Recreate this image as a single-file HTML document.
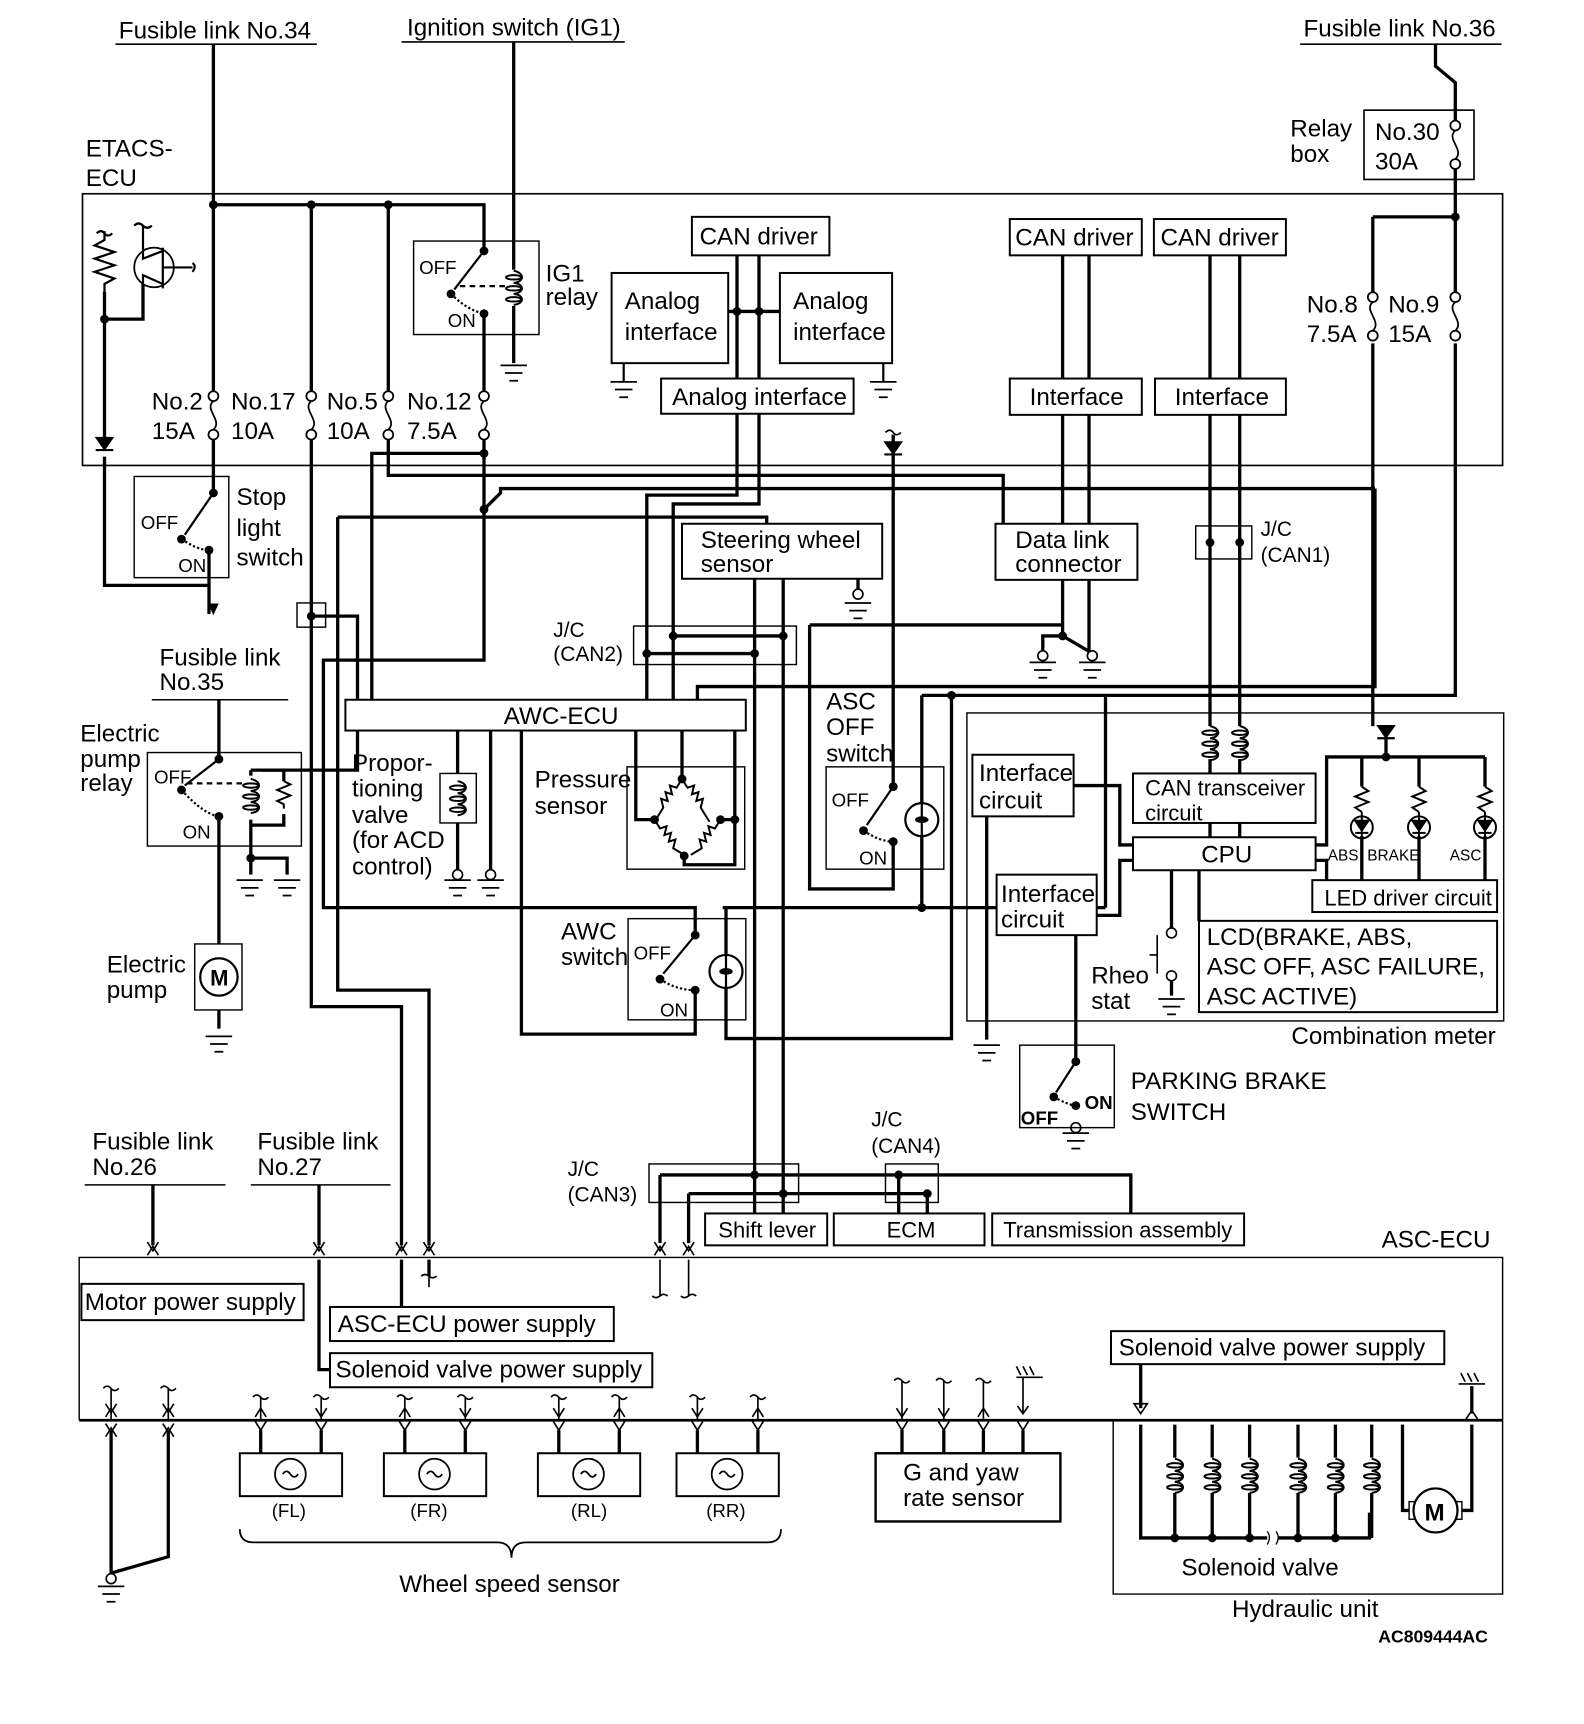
<!DOCTYPE html>
<html><head><meta charset="utf-8"><style>
html,body{margin:0;padding:0;background:#fff;}
svg{display:block;}
text{font-family:"Liberation Sans",Arial,sans-serif;fill:#000;}
</style></head><body>
<svg width="1584" height="1724" viewBox="0 0 1440 1567" xmlns="http://www.w3.org/2000/svg">
<defs>
<g id="gnd"><line x1="-12" y1="0" x2="12" y2="0" stroke="#000" stroke-width="1.6"/><line x1="-8" y1="7" x2="8" y2="7" stroke="#000" stroke-width="1.6"/><line x1="-4" y1="14" x2="4" y2="14" stroke="#000" stroke-width="1.6"/></g>
<g id="fuse" fill="none" stroke="#000" stroke-width="1.6"><circle cx="0" cy="0" r="4.5" fill="#fff"/><circle cx="0" cy="35" r="4.5" fill="#fff"/><path d="M0,4.5 C-9,12 9,22 0,30.5"/></g>
<g id="coil" fill="none" stroke="#000" stroke-width="1.8"><path d="M0,0 C10,2 10,10 0,11 C10,12 10,20 0,21 C10,22 10,30 0,31"/><ellipse cx="0" cy="6" rx="7" ry="2"/><ellipse cx="0" cy="16" rx="7" ry="2"/><ellipse cx="0" cy="26" rx="7" ry="2"/></g>
<g id="conn" fill="none" stroke="#000" stroke-width="1.5"><path d="M-5,-6 L0,2 L5,-6"/><path d="M-5,6 L0,-2 L5,6"/></g>
</defs>

<g stroke="#000" fill="none">
<line x1="105" y1="40" x2="288" y2="40" stroke-width="1.5"/>
<line x1="365" y1="38" x2="568" y2="38" stroke-width="1.5"/>
<line x1="1182" y1="40" x2="1365" y2="40" stroke-width="1.5"/>
<rect x="75" y="176" width="1291" height="247" stroke-width="1.5"/>
<rect x="1240" y="100" width="100" height="63" stroke-width="1.5"/>
</g>

<g stroke="#000" stroke-width="3" fill="none" stroke-linejoin="miter">
<path d="M194,40 V355 M194,400 V448 M190,500 V558"/>
<path d="M194,186 H440 V228"/>
<path d="M283,186 V355 M283,400 V915 H365 V1132"/>
<path d="M353,186 V355 M353,400 V432 H912 V476"/>
<path d="M440,285 V355 M440,400 V600 H294 V825 H632 V850"/>
<path d="M440,412 H338 V636"/>
<path d="M307,470 H697 V476 M307,470 V900 H390 V1132"/>
<path d="M440,463 L455,448 V444 H1250"/>
<path d="M1250,444 V624 H634 V636"/>
<path d="M467,38 V245 M467,278 V330"/>
<path d="M95,265 V405 M95,290 H130 V258 M95,415 V532 H190"/>
<path d="M1305,40 V60 L1323,75 V110 M1323,152 V265 M1323,312 V632 H838 M1248,197 H1323 M1248,197 V265 M1248,312 V660"/>
<path d="M670,232 V344 M690,232 V344 M662,283 H709"/>
<path d="M670,376 V450 H588 V636 M690,376 V458 H612 V636"/>
<path d="M612,578 H712 M588,594 H686"/>
<path d="M686,526 V1103 M712,526 V1103"/>
<path d="M780,526 V540"/>
<path d="M966,232 V344 M990,232 V344 M1100,232 V344 M1127,232 V344"/>
<path d="M966,377 V476 M990,377 V476 M966,527 V578 L990,592 M990,527 V592 M966,578 H948 V596 M993,592 V596"/>
<path d="M1100,377 V660 M1127,377 V660"/>
<path d="M736,568 H966"/>
<path d="M736,568 V808 H812 V765"/>
<path d="M812,395 V715"/>
<path d="M838,632 V825 M865,632 V944 H660 V825 M657,825 H1005 M1005,632 V825"/>
<path d="M474,664 V940 H632 V900"/>
<path d="M578,664 V745 H595 M620,664 V708 M668,664 V745 H655 M622,778 V786 H668 V745"/>
<path d="M416,664 V703 M416,748 V795 M446,664 V795"/>
<path d="M283,560 H325 V700 H238"/>
<path d="M199,636 V690 M199,742 V858 M199,918 V935"/>
<path d="M228,700 V705 M228,745 V780 M228,700 H258 V710 M258,740 V750 H228 M228,780 V795 M228,780 H261 V795"/>
<path d="M1100,690 V703 M1127,690 V703 M1100,748 V761 M1127,748 V761"/>
<path d="M976,714 H1018 V768 H1030 M997,832 H1018 V782 H1030"/>
<path d="M1196,768 H1206 V688 H1350 M1196,782 H1206 V800"/>
<path d="M1238,688 V715 M1290,688 V715 M1350,688 V715 M1238,760 V800 M1290,760 V800 M1350,760 V800"/>
<path d="M1260,672 V688"/>
<path d="M1065,791 V843 M1090,791 V837 M1065,892 V905"/>
<path d="M978,850 V962 M897,686 V945"/>
<path d="M139,1077 V1132 M290,1077 V1132 M290,1145 V1245 H300 M365,1145 V1188 M390,1145 V1160"/>
<path d="M600,1068 H1028 V1103 M626,1085 H843 V1103 M817,1068 V1103 M600,1068 V1130 M626,1085 V1130"/>
<path d="M101,1300 V1430 L153,1415 V1300 M101,1430 V1440"/>
<path d="M237,1300 V1321 M292,1300 V1321 M368,1300 V1321 M423,1300 V1321 M508,1300 V1321 M563,1300 V1321 M634,1300 V1321 M689,1300 V1321"/>
<path d="M820,1300 V1321 M858,1300 V1321 M894,1300 V1321 M930,1300 V1321"/>
<path d="M1037,1240 V1280"/>
<path d="M1037,1295 V1398 H1245 V1375 M1068,1295 V1325 M1068,1357 V1398 M1102,1295 V1325 M1102,1357 V1398 M1136,1295 V1325 M1136,1357 V1398 M1180,1295 V1325 M1180,1357 V1398 M1214,1295 V1325 M1214,1357 V1398 M1247,1295 V1325 M1247,1357 V1398"/>
<path d="M1275,1295 V1373 H1285 M1338,1295 V1373 H1325"/>
<path d="M1338,1260 V1285"/>
</g>
<line x1="72" y1="1291" x2="1366" y2="1291" stroke="#000" stroke-width="2.5"/>
<g stroke="#fff" stroke-width="4"><line x1="1152" y1="1398" x2="1162" y2="1398"/></g>
<path d="M1152,1392 q4,5 0,12 M1160,1392 q4,5 0,12" stroke="#000" stroke-width="1.2" fill="none"/>

<use href="#fuse" x="194" y="360"/><use href="#fuse" x="283" y="360"/><use href="#fuse" x="353" y="360"/><use href="#fuse" x="440" y="360"/>
<use href="#fuse" x="1323" y="114"/><use href="#fuse" x="1248" y="270"/><use href="#fuse" x="1323" y="270"/>

<g fill="#000">
<circle cx="194" cy="186" r="4"/><circle cx="283" cy="186" r="4"/><circle cx="353" cy="186" r="4"/><circle cx="1323" cy="197" r="4"/>
<circle cx="440" cy="228" r="4"/><circle cx="410" cy="267" r="4"/><circle cx="440" cy="285" r="4"/>
<circle cx="95" cy="290" r="4"/><circle cx="440" cy="412" r="4"/><circle cx="440" cy="463" r="4"/>
<circle cx="670" cy="283" r="4"/><circle cx="690" cy="283" r="4"/>
<circle cx="612" cy="578" r="4"/><circle cx="712" cy="578" r="4"/><circle cx="588" cy="594" r="4"/><circle cx="686" cy="594" r="4"/>
<circle cx="1100" cy="493" r="4"/><circle cx="1127" cy="493" r="4"/><circle cx="966" cy="578" r="4"/>
<circle cx="283" cy="560" r="4"/><circle cx="865" cy="632" r="4"/><circle cx="838" cy="825" r="4"/>
<circle cx="686" cy="1068" r="4"/><circle cx="712" cy="1085" r="4"/><circle cx="817" cy="1068" r="4"/><circle cx="843" cy="1085" r="4"/>
<circle cx="1260" cy="688" r="4"/><circle cx="199" cy="690" r="4"/><circle cx="165" cy="718" r="4"/><circle cx="199" cy="742" r="4"/><circle cx="228" cy="780" r="4"/>
<circle cx="194" cy="448" r="4"/><circle cx="165" cy="490" r="4"/><circle cx="190" cy="500" r="4"/>
<circle cx="812" cy="715" r="4"/><circle cx="785" cy="755" r="4"/><circle cx="812" cy="765" r="4"/>
<circle cx="632" cy="850" r="4"/><circle cx="600" cy="890" r="4"/><circle cx="632" cy="900" r="4"/>
<circle cx="978" cy="965" r="4"/><circle cx="958" cy="997" r="4"/><circle cx="978" cy="1005" r="4"/>
<circle cx="620" cy="708" r="4"/><circle cx="595" cy="745" r="4"/><circle cx="655" cy="745" r="4"/><circle cx="622" cy="778" r="4"/><circle cx="668" cy="745" r="4"/>
<circle cx="1068" cy="1398" r="4"/><circle cx="1102" cy="1398" r="4"/><circle cx="1136" cy="1398" r="4"/><circle cx="1180" cy="1398" r="4"/><circle cx="1214" cy="1398" r="4"/>
</g>

<g stroke="#000" stroke-width="2" fill="none">
<path d="M440,228 L413,263"/><path d="M418,260 H460" stroke-dasharray="5,4"/><path d="M410,267 Q425,282 440,285" stroke-dasharray="2,2"/>
<path d="M194,448 L168,486"/><path d="M165,490 Q180,500 190,500" stroke-dasharray="2,2"/>
<path d="M199,690 L168,714"/><path d="M170,712 H222" stroke-dasharray="5,4"/><path d="M165,718 Q185,740 199,742" stroke-dasharray="2,2"/>
<path d="M812,715 L788,750"/><path d="M785,755 Q800,765 812,765" stroke-dasharray="2,2"/>
<path d="M632,850 L603,885"/><path d="M600,890 Q615,900 632,900" stroke-dasharray="2,2"/>
<path d="M978,965 L960,993"/><path d="M958,997 Q970,1004 978,1005" stroke-dasharray="2,2"/>
</g>

<use href="#coil" x="467" y="246"/>
<use href="#coil" x="416" y="710"/>
<use href="#coil" x="228" y="708"/>
<use href="#coil" x="1100" y="660"/><use href="#coil" x="1127" y="660"/>
<use href="#coil" x="1068" y="1326"/><use href="#coil" x="1102" y="1326"/><use href="#coil" x="1136" y="1326"/><use href="#coil" x="1180" y="1326"/><use href="#coil" x="1214" y="1326"/><use href="#coil" x="1247" y="1326"/>

<use href="#gnd" x="467" y="332"/><use href="#gnd" x="567" y="347"/><use href="#gnd" x="803" y="347"/>
<use href="#gnd" x="780" y="548"/><use href="#gnd" x="948" y="602"/><use href="#gnd" x="993" y="602"/>
<use href="#gnd" x="416" y="800"/><use href="#gnd" x="446" y="800"/><use href="#gnd" x="227" y="800"/><use href="#gnd" x="261" y="800"/>
<use href="#gnd" x="199" y="942"/><use href="#gnd" x="897" y="950"/><use href="#gnd" x="978" y="1030"/><use href="#gnd" x="1065" y="908"/>
<use href="#gnd" x="101" y="1442"/>
<g stroke="#000" stroke-width="1.5" fill="#fff">
<circle cx="780" cy="540" r="4.5"/><circle cx="948" cy="596" r="4.5"/><circle cx="993" cy="596" r="4.5"/><circle cx="416" cy="795" r="4.5"/><circle cx="446" cy="795" r="4.5"/>
<circle cx="1065" cy="848" r="4.5"/><circle cx="1065" cy="887" r="4.5"/><circle cx="978" cy="1025" r="4.5"/><circle cx="101" cy="1435" r="4.5"/>
<line x1="567" y1="330" x2="567" y2="347" stroke-width="2"/><line x1="803" y1="330" x2="803" y2="347" stroke-width="2"/>
<line x1="1052" y1="850" x2="1052" y2="885"/><line x1="1045" y1="868" x2="1052" y2="868"/>
</g>

<g fill="#000" stroke="#000" stroke-width="2">
<path d="M88,398 L102,398 L95,408 Z"/><line x1="87" y1="409" x2="103" y2="409"/>
<path d="M805,402 L819,402 L812,412 Z"/><line x1="804" y1="413" x2="820" y2="413"/>
<path d="M1253,660 L1267,660 L1260,670 Z"/><line x1="1252" y1="671" x2="1268" y2="671"/>
<path d="M190,549 L198,549 L194,558 Z" stroke-width="1"/>
</g>
<path d="M805,393 q4,-4 7,0 q3,4 7,0" stroke="#000" stroke-width="1.5" fill="none"/>

<g stroke="#000" stroke-width="2" fill="none">
<path d="M95,210 V218 L86,223 L104,229 L86,235 L104,241 L86,247 L104,253 L95,258 V265"/>
<path d="M88,212 q4,-4 7,0 q3,4 7,0"/>
<circle cx="140" cy="243" r="18" stroke-width="1.6"/>
<path d="M130,205 V235 L148,228 M148,225 V262 M130,258 V250 L148,258 M148,243 H175"/>
<path d="M122,205 q4,-4 8,0 q4,4 8,0 M175,239 q4,3 0,8"/>
</g>

<g stroke="#000" stroke-width="1.8" fill="none">
<path d="M1238,715 l6,4 l-12,5 l12,5 l-12,5 l6,4"/><path d="M1290,715 l6,4 l-12,5 l12,5 l-12,5 l6,4"/><path d="M1350,715 l6,4 l-12,5 l12,5 l-12,5 l6,4"/>
<path d="M258,710 l6,3 l-12,5 l12,5 l-12,5 l6,3 v4"/>
<circle cx="1238" cy="752" r="10"/><circle cx="1290" cy="752" r="10"/><circle cx="1350" cy="752" r="10"/>
<path d="M1232,746 h12 l-6,9z M1284,746 h12 l-6,9z M1344,746 h12 l-6,9z" fill="#000"/>
<path d="M1232,757 h12 M1284,757 h12 M1344,757 h12"/>
<path d="M1238,738 V765 M1290,738 V765 M1350,738 V765"/>
</g>
<g stroke="#000" stroke-width="2" fill="#fff">
<circle cx="838" cy="745" r="15"/><circle cx="660" cy="883" r="15"/>
</g>
<g stroke="#000" stroke-width="2" fill="none">
<path d="M838,730 V760 M832,745 h12 M660,868 V898 M654,883 h12"/>
<ellipse cx="838" cy="745" rx="5" ry="2"/><ellipse cx="660" cy="883" rx="5" ry="2"/>
</g>
<g stroke="#000" stroke-width="1.8" fill="none">
<path d="M620,708 l-5,8 l-6,-2 l2,8 l-6,-2 l2,8 l-6,-2 l2,8 l-8,13"/>
<path d="M620,708 l5,8 l6,-2 l-2,8 l6,-2 l-2,8 l6,-2 l-2,8 l8,13"/>
<path d="M595,745 l5,8 l6,-2 l-2,8 l6,-2 l-2,8 l6,-2 l-2,8 l10,6"/>
<path d="M655,745 l-5,8 l-6,-2 l2,8 l-6,-2 l2,8 l-6,-2 l2,8 l-10,6"/>
</g>

<g stroke="#000" stroke-width="1.8" fill="#fff">
<rect x="629" y="197" width="125" height="35"/>
<rect x="556" y="248" width="106" height="82"/>
<rect x="709" y="248" width="102" height="82"/>
<rect x="601" y="344" width="175" height="32"/>
<rect x="918" y="199" width="120" height="33"/>
<rect x="1049" y="199" width="120" height="33"/>
<rect x="918" y="344" width="120" height="33"/>
<rect x="1050" y="344" width="119" height="33"/>
<rect x="905" y="476" width="129" height="51"/>
<rect x="620" y="476" width="182" height="50"/>
<rect x="314" y="636" width="364" height="28"/>
<rect x="884" y="686" width="92" height="56"/>
<rect x="906" y="795" width="91" height="55"/>
<rect x="1030" y="703" width="166" height="45"/>
<rect x="1030" y="761" width="166" height="30"/>
<rect x="1193" y="800" width="168" height="29"/>
<rect x="1090" y="837" width="271" height="83"/>
<rect x="641" y="1103" width="111" height="29"/>
<rect x="758" y="1103" width="137" height="29"/>
<rect x="902" y="1103" width="229" height="29"/>
<rect x="74" y="1167" width="202" height="33"/>
<rect x="300" y="1188" width="258" height="31"/>
<rect x="300" y="1230" width="293" height="31"/>
<rect x="1010" y="1210" width="303" height="30"/>
<rect x="218" y="1321" width="93" height="39"/>
<rect x="349" y="1321" width="93" height="39"/>
<rect x="489" y="1321" width="93" height="39"/>
<rect x="615" y="1321" width="93" height="39"/>
<rect x="796" y="1321" width="168" height="62" stroke-width="2.2"/>
</g>
<g stroke="#000" stroke-width="1.3" fill="none">
<rect x="376" y="219" width="114" height="85"/>
<rect x="122" y="433" width="86" height="92"/>
<rect x="270" y="548" width="26" height="22"/>
<rect x="1087" y="478" width="51" height="30"/>
<rect x="576" y="569" width="148" height="35"/>
<rect x="134" y="684" width="140" height="85"/>
<rect x="400" y="703" width="33" height="45"/>
<rect x="570" y="697" width="107" height="93"/>
<rect x="751" y="697" width="107" height="93"/>
<rect x="571" y="835" width="107" height="92"/>
<rect x="879" y="648" width="488" height="280"/>
<rect x="927" y="950" width="86" height="75"/>
<rect x="177" y="858" width="43" height="60"/>
<rect x="590" y="1058" width="136" height="35"/>
<rect x="805" y="1058" width="48" height="35"/>
<path d="M72,1291 V1143 H1366 V1291"/>
<path d="M1012,1291 V1449 H1366 V1291"/>
<path d="M138,636 H262 M77,1077 H205 M228,1077 H355"/>
</g>
<g stroke="#000" stroke-width="2" fill="#fff">
<circle cx="199" cy="888" r="17"/>
<rect x="1281" y="1365" width="6" height="16" stroke-width="1.3"/><rect x="1323" y="1365" width="6" height="16" stroke-width="1.3"/>
<circle cx="1305" cy="1373" r="20"/>
</g>
<g stroke="#000" stroke-width="1.6" fill="none">
<circle cx="264" cy="1340" r="14"/><circle cx="395" cy="1340" r="14"/><circle cx="535" cy="1340" r="14"/><circle cx="661" cy="1340" r="14"/>
<path d="M257,1340 q3.5,-5 7,0 q3.5,5 7,0 M388,1340 q3.5,-5 7,0 q3.5,5 7,0 M528,1340 q3.5,-5 7,0 q3.5,5 7,0 M654,1340 q3.5,-5 7,0 q3.5,5 7,0"/>
<path d="M218,1390 q0,12 12,12 H452 q13,0 13,14 q0,-14 13,-14 H698 q12,0 12,-12"/>
</g>
<use href="#conn" x="139" y="1135"/><use href="#conn" x="290" y="1135"/><use href="#conn" x="365" y="1135"/><use href="#conn" x="390" y="1135"/>
<use href="#conn" x="600" y="1135"/><use href="#conn" x="626" y="1135"/>
<g stroke="#000" stroke-width="1.5" fill="none">
<path d="M390,1160 V1170 M383,1160 q3,-3 7,0 q3,3 7,0 M600,1145 V1178 M593,1178 q3,3 7,0 q3,-3 7,0 M626,1145 V1178 M619,1178 q3,3 7,0 q3,-3 7,0"/>
<path d="M1031,1276 h12 l-6,9z"/>
<path d="M1332,1291 l6,-9 l6,9 M1326,1258 H1350 M1332,1256 l-4,-8 M1338,1256 l-4,-8 M1344,1256 l-4,-8"/>
<path d="M924,1252 H948 M928,1250 l-4,-8 M934,1250 l-4,-8 M940,1250 l-4,-8 M930,1252 V1285 M925,1278 l5,7 l5,-7"/>
</g>
<use href="#conn" x="101" y="1282"/><use href="#conn" x="153" y="1282"/>
<use href="#conn" x="101" y="1300"/><use href="#conn" x="153" y="1300"/>
<g stroke="#000" stroke-width="1.5" fill="none">
<path d="M101,1262 V1290 M153,1262 V1290 M237,1270 V1290 M292,1270 V1290 M368,1270 V1290 M423,1270 V1290 M508,1270 V1290 M563,1270 V1290 M634,1270 V1290 M689,1270 V1290 M820,1255 V1290 M858,1255 V1290 M894,1255 V1290"/>
<path d="M94,1262 q3,-4 7,0 q3,4 7,0 M146,1262 q3,-4 7,0 q3,4 7,0 M230,1270 q3,-4 7,0 q3,4 7,0 M285,1270 q3,-4 7,0 q3,4 7,0 M361,1270 q3,-4 7,0 q3,4 7,0 M416,1270 q3,-4 7,0 q3,4 7,0 M501,1270 q3,-4 7,0 q3,4 7,0 M556,1270 q3,-4 7,0 q3,4 7,0 M627,1270 q3,-4 7,0 q3,4 7,0 M682,1270 q3,-4 7,0 q3,4 7,0 M813,1255 q3,-4 7,0 q3,4 7,0 M851,1255 q3,-4 7,0 q3,4 7,0 M887,1255 q3,-4 7,0 q3,4 7,0"/>
<path d="M232,1292 l5,8 l5,-8 M287,1292 l5,8 l5,-8 M363,1292 l5,8 l5,-8 M418,1292 l5,8 l5,-8 M503,1292 l5,8 l5,-8 M558,1292 l5,8 l5,-8 M629,1292 l5,8 l5,-8 M684,1292 l5,8 l5,-8 M815,1292 l5,8 l5,-8 M853,1292 l5,8 l5,-8 M889,1292 l5,8 l5,-8 M925,1292 l5,8 l5,-8"/>
<path d="M232,1288 l5,-8 l5,8 M287,1280 l5,8 l5,-8 M363,1288 l5,-8 l5,8 M418,1280 l5,8 l5,-8 M503,1280 l5,8 l5,-8 M558,1288 l5,-8 l5,8 M629,1280 l5,8 l5,-8 M684,1288 l5,-8 l5,8 M815,1280 l5,8 l5,-8 M853,1280 l5,8 l5,-8 M889,1288 l5,-8 l5,8"/>
</g>

<g font-size="22">
<text x="108" y="35">Fusible link No.34</text>
<text x="370" y="32">Ignition switch (IG1)</text>
<text x="1185" y="33">Fusible link No.36</text>
<text x="78" y="142">ETACS-</text><text x="78" y="169">ECU</text>
<text x="1173" y="124">Relay</text><text x="1173" y="147">box</text>
<text x="1250" y="127">No.30</text><text x="1250" y="154">30A</text>
<text x="496" y="256">IG1</text><text x="496" y="277">relay</text>
<text x="636" y="222">CAN driver</text>
<text x="568" y="281">Analog</text><text x="568" y="309">interface</text>
<text x="721" y="281">Analog</text><text x="721" y="309">interface</text>
<text x="611" y="368">Analog interface</text>
<text x="923" y="223">CAN driver</text><text x="1055" y="223">CAN driver</text>
<text x="936" y="368">Interface</text><text x="1068" y="368">Interface</text>
<text x="1188" y="284">No.8</text><text x="1188" y="311">7.5A</text>
<text x="1262" y="284">No.9</text><text x="1262" y="311">15A</text>
<text x="138" y="372">No.2</text><text x="138" y="399">15A</text>
<text x="210" y="372">No.17</text><text x="210" y="399">10A</text>
<text x="297" y="372">No.5</text><text x="297" y="399">10A</text>
<text x="370" y="372">No.12</text><text x="370" y="399">7.5A</text>
<text x="215" y="459">Stop</text><text x="215" y="487">light</text><text x="215" y="514">switch</text>
<text x="637" y="498">Steering wheel</text><text x="637" y="520">sensor</text>
<text x="923" y="498">Data link</text><text x="923" y="520">connector</text>
<text x="145" y="605">Fusible link</text><text x="145" y="627">No.35</text>
<text x="73" y="674">Electric</text><text x="73" y="697">pump</text><text x="73" y="719">relay</text>
<text x="458" y="658">AWC-ECU</text>
<text x="320" y="701">Propor-</text><text x="320" y="724">tioning</text><text x="320" y="748">valve</text><text x="320" y="771">(for ACD</text><text x="320" y="795">control)</text>
<text x="486" y="716">Pressure</text><text x="486" y="740">sensor</text>
<text x="751" y="645">ASC</text><text x="751" y="668">OFF</text><text x="751" y="692">switch</text>
<text x="510" y="854">AWC</text><text x="510" y="877">switch</text>
<text x="97" y="884">Electric</text><text x="97" y="907">pump</text>
<text x="890" y="710">Interface</text><text x="890" y="735">circuit</text>
<text x="910" y="820">Interface</text><text x="910" y="843">circuit</text>
<text x="1041" y="723" font-size="20">CAN transceiver</text><text x="1041" y="746" font-size="20">circuit</text>
<text x="1092" y="784">CPU</text>
<text x="1204" y="823" font-size="20">LED driver circuit</text>
<text x="1097" y="859">LCD(BRAKE, ABS,</text><text x="1097" y="886">ASC OFF, ASC FAILURE,</text><text x="1097" y="913">ASC ACTIVE)</text>
<text x="992" y="894">Rheo</text><text x="992" y="917">stat</text>
<text x="1174" y="949">Combination meter</text>
<text x="1028" y="990">PARKING BRAKE</text><text x="1028" y="1018">SWITCH</text>
<text x="84" y="1045">Fusible link</text><text x="84" y="1068">No.26</text>
<text x="234" y="1045">Fusible link</text><text x="234" y="1068">No.27</text>
<text x="516" y="1069" font-size="19">J/C</text><text x="516" y="1092" font-size="19">(CAN3)</text>
<text x="792" y="1024" font-size="19">J/C</text><text x="792" y="1048" font-size="19">(CAN4)</text>
<text x="503" y="579" font-size="19">J/C</text><text x="503" y="601" font-size="19">(CAN2)</text>
<text x="1146" y="487" font-size="19">J/C</text><text x="1146" y="511" font-size="19">(CAN1)</text>
<text x="653" y="1125" font-size="20">Shift lever</text>
<text x="806" y="1125" font-size="20">ECM</text>
<text x="912" y="1125" font-size="20">Transmission assembly</text>
<text x="1256" y="1134">ASC-ECU</text>
<text x="77" y="1191">Motor power supply</text>
<text x="307" y="1211">ASC-ECU power supply</text>
<text x="305" y="1252">Solenoid valve power supply</text>
<text x="1017" y="1232">Solenoid valve power supply</text>
<text x="821" y="1346">G and yaw</text><text x="821" y="1369">rate sensor</text>
<text x="363" y="1447">Wheel speed sensor</text>
<text x="1074" y="1432">Solenoid valve</text>
<text x="1120" y="1470">Hydraulic unit</text>
</g>
<g font-size="17">
<text x="381" y="249">OFF</text><text x="407" y="297">ON</text>
<text x="128" y="481">OFF</text><text x="162" y="520">ON</text>
<text x="140" y="712">OFF</text><text x="166" y="762">ON</text>
<text x="756" y="733">OFF</text><text x="781" y="786">ON</text>
<text x="576" y="872">OFF</text><text x="600" y="924">ON</text>
<text x="928" y="1022" font-weight="bold">OFF</text><text x="986" y="1008" font-weight="bold">ON</text>
<text x="247" y="1379">(FL)</text><text x="373" y="1379">(FR)</text><text x="519" y="1379">(RL)</text><text x="642" y="1379">(RR)</text>
</g>
<g font-size="14">
<text x="1207" y="782">ABS</text><text x="1243" y="782">BRAKE</text><text x="1318" y="782">ASC</text>
</g>
<text x="191" y="896" font-size="20" font-weight="bold">M</text>
<text x="1295" y="1382" font-size="22" font-weight="bold">M</text>
<text x="1253" y="1493" font-size="16" font-weight="bold">AC809444AC</text>
</svg>
</body></html>
